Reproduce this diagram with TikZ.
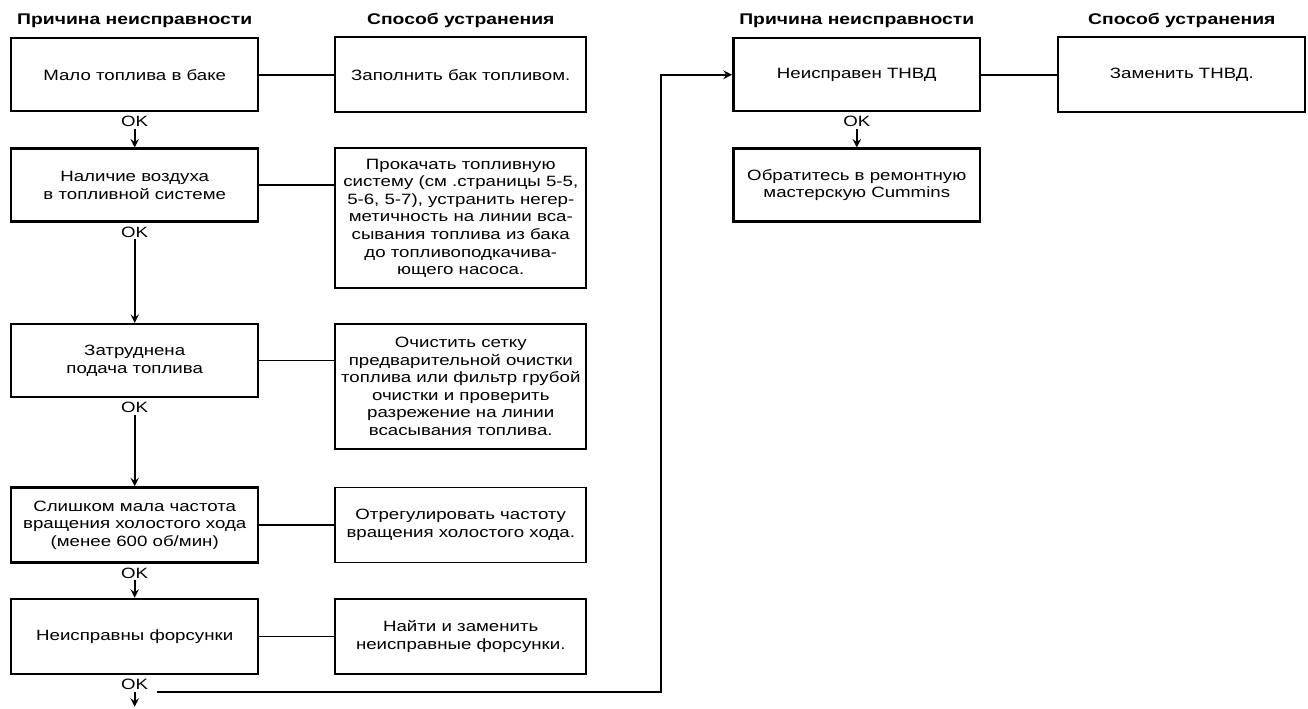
\documentclass[tikz,border=0pt]{standalone}
\usepackage{fontspec}
\setmainfont[FakeStretch=1.25]{Liberation Sans}
\usepackage{tikz}
\usetikzlibrary{positioning}
\newcommand{\boxfont}{\fontsize{8.5}{10}\selectfont}
\newcommand{\headfont}{\fontsize{8.8}{10}\selectfont\bfseries}

\begin{document}
\begin{tikzpicture}[
    x=0.02cm, y=-0.02cm,
    cause/.style={rectangle, draw, line width=1.4pt, minimum width=4.94cm, minimum height=1.46cm, align=center, inner sep=2pt, font=\boxfont},
    fix/.style={rectangle, draw, line width=1pt, minimum width=5.02cm, minimum height=1.5cm, align=center, inner sep=2pt, font=\boxfont},
    head/.style={font=\headfont, inner sep=1pt},
    ok/.style={font=\boxfont, inner sep=1pt},
    link/.style={line width=0.9pt},
    arrow/.style={->, >=stealth, line width=1.1pt}
]
\useasboundingbox (0,0) rectangle (1308,708);

% Causes, left column
\node[cause, anchor=north west] (c1) at (10,37) {Мало топлива в баке};
\node[cause] (c2) [below=0.7cm of c1] {Наличие воздуха\\в топливной системе};
\node[cause] (c3) [below=2cm of c2] {Затруднена\\подача топлива};
\node[cause, minimum height=1.5cm] (c4) [below=1.76cm of c3] {Слишком мала частота\\вращения холостого хода\\(менее 600 об/мин)};
\node[cause, minimum height=1.5cm] (c5) [below=0.68cm of c4] {Неисправны форсунки};

% Remedies, left column
\node[fix] (s1) [right=1.5cm of c1] {Заполнить бак топливом.};
\node[fix, minimum height=2.8cm] (s2) [right=1.5cm of c2.north east, anchor=north west] {Прокачать топливную\\систему (см .страницы 5-5,\\5-6, 5-7), устранить негер-\\метичность на линии вса-\\сывания топлива из бака\\до топливоподкачива-\\ющего насоса.};
\node[fix, minimum height=2.5cm] (s3) [right=1.5cm of c3.north east, anchor=north west] {Очистить сетку\\предварительной очистки\\топлива или фильтр грубой\\очистки и проверить\\разрежение на линии\\всасывания топлива.};
\node[fix] (s4) [right=1.5cm of c4] {Отрегулировать частоту\\вращения холостого хода.};
\node[fix] (s5) [right=1.5cm of c5] {Найти и заменить\\неисправные форсунки.};

% Right part
\node[cause] (tnvd) [right=2.9cm of s1] {Неисправен ТНВД};
\node[fix, minimum width=4.94cm] (zam) [right=1.52cm of tnvd] {Заменить ТНВД.};
\node[cause] (obr) [below=0.7cm of tnvd] {Обратитесь в ремонтную\\мастерскую Cummins};

% Headings
\node[head] (h1) [above=4pt of c1] {Причина неисправности};
\node[head] (h2) [above=4pt of s1] {Способ устранения};
\node[head] (h3) [above=4pt of tnvd] {Причина неисправности};
\node[head] (h4) [above=4pt of zam] {Способ устранения};

% OK labels
\node[ok] (ok1) [below=1pt of c1] {OK};
\node[ok] (ok2) [below=1pt of c2] {OK};
\node[ok] (ok3) [below=1pt of c3] {OK};
\node[ok] (ok4) [below=1pt of c4] {OK};
\node[ok] (ok5) [below=1pt of c5] {OK};
\node[ok] (ok6) [below=1pt of tnvd] {OK};
\coordinate[below=0.3cm of ok5.south] (out);

% Flows
\draw[arrow] (ok1) -- (c2);
\draw[arrow] (ok2) -- (c3);
\draw[arrow] (ok3) -- (c4);
\draw[arrow] (ok4) -- (c5);
\draw[arrow] (ok5) -- (out);
\draw[arrow] (ok6) -- (obr);
\draw[arrow, line width=1.2pt] ([xshift=0.14cm]ok5.south east) -| ([xshift=-1.42cm]tnvd.west) -- (tnvd.west);

% Links to remedies
\draw[link] (c1) -- (s1);
\draw[link] (c2.east) -- (c2.east -| s2.west);
\draw[link] (c3.east) -- (c3.east -| s3.west);
\draw[link] (c4) -- (s4);
\draw[link] (c5) -- (s5);
\draw[link] (tnvd) -- (zam);

\end{tikzpicture}
\end{document}
